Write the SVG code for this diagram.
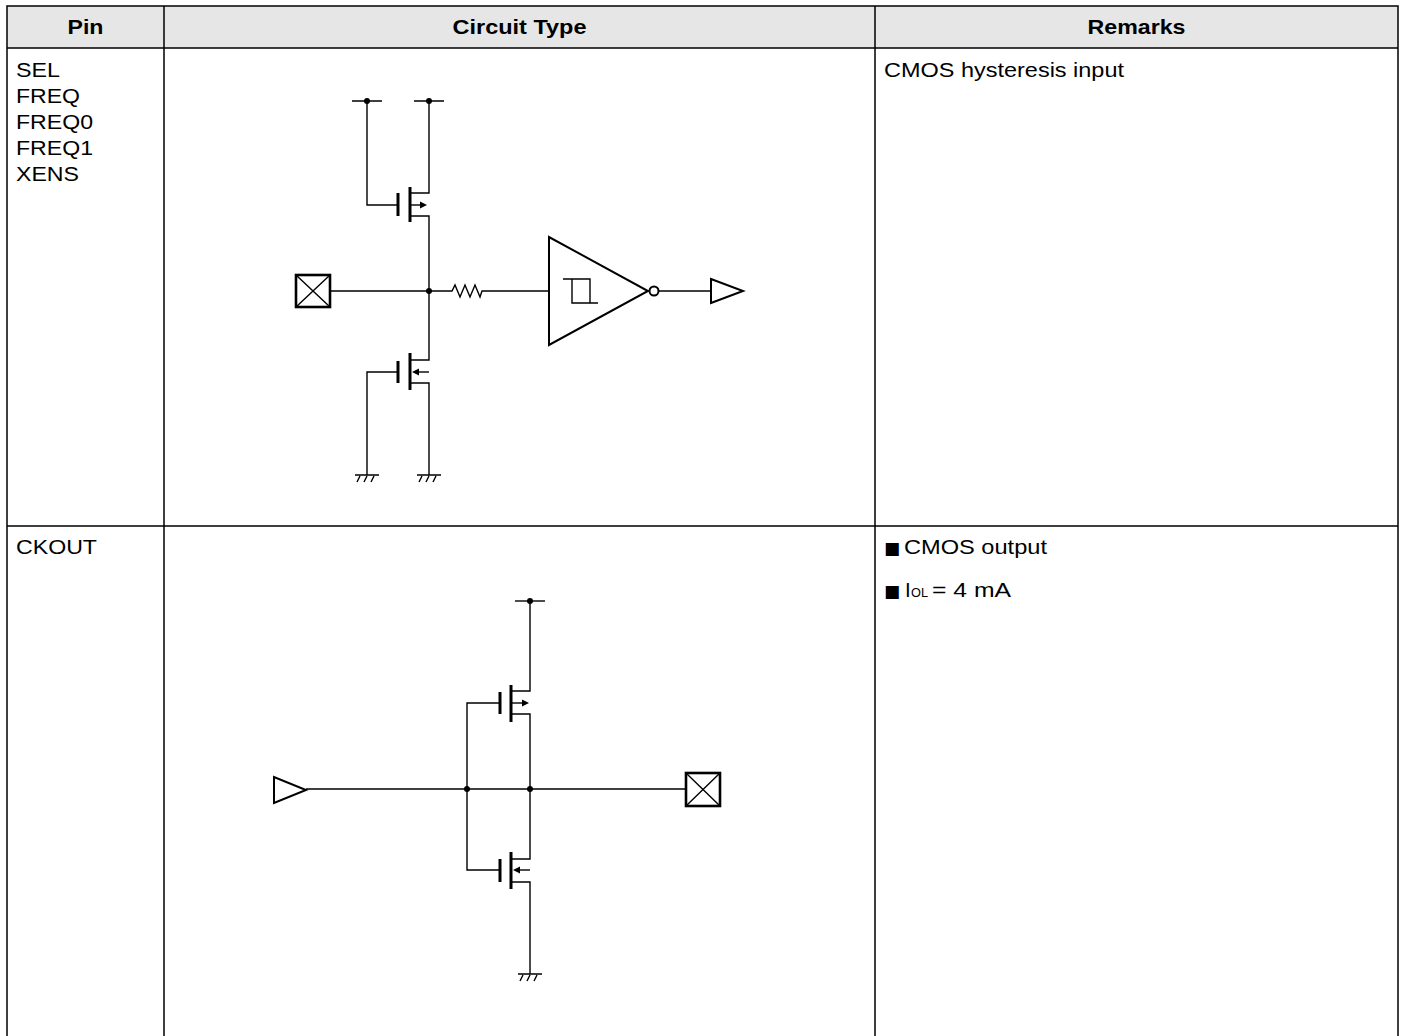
<svg xmlns="http://www.w3.org/2000/svg" width="1404" height="1036" viewBox="0 0 1404 1036">
<style>
.grid{stroke:#000;stroke-width:1.5;fill:none}
.t{font-family:"Liberation Sans",Arial,sans-serif;font-size:20.5px;fill:#000}
.h{font-family:"Liberation Sans",Arial,sans-serif;font-size:20.5px;font-weight:bold;fill:#000;text-anchor:middle}
.b{font-family:"DejaVu Sans",sans-serif;font-size:17px;fill:#000}
.w{stroke:#000;stroke-width:1.4;fill:none}
.plate{stroke:#000;stroke-width:3;fill:none}
.sym{stroke:#000;stroke-width:2;fill:none}
.pad{stroke:#000;stroke-width:2.6;fill:#fff}
.dot{fill:#000}
.ah{fill:#000;stroke:none}
</style>
<rect width="1404" height="1036" fill="#fff"/>
<g id="table">
<rect x="7" y="6" width="1391" height="42" fill="#e6e6e6"/>
<path class="grid" d="M7,1040V6H1398V1040M7,48H1398M7,526H1398M164,6V1040M875,6V1040"/>
<text class="h" x="85.5" y="34" textLength="36" lengthAdjust="spacingAndGlyphs">Pin</text>
<text class="h" x="519.5" y="34" textLength="134" lengthAdjust="spacingAndGlyphs">Circuit Type</text>
<text class="h" x="1136.5" y="34" textLength="98" lengthAdjust="spacingAndGlyphs">Remarks</text>
<text class="t" x="16" y="77" textLength="44" lengthAdjust="spacingAndGlyphs">SEL</text>
<text class="t" x="16" y="103" textLength="64" lengthAdjust="spacingAndGlyphs">FREQ</text>
<text class="t" x="16" y="129" textLength="77" lengthAdjust="spacingAndGlyphs">FREQ0</text>
<text class="t" x="16" y="155" textLength="77" lengthAdjust="spacingAndGlyphs">FREQ1</text>
<text class="t" x="16" y="181" textLength="63" lengthAdjust="spacingAndGlyphs">XENS</text>
<text class="t" x="884" y="77" textLength="240" lengthAdjust="spacingAndGlyphs">CMOS hysteresis input</text>
<text class="t" x="16" y="554" textLength="81" lengthAdjust="spacingAndGlyphs">CKOUT</text>
<text class="b" x="884" y="554">■</text>
<text class="t" x="904" y="554" textLength="143" lengthAdjust="spacingAndGlyphs">CMOS output</text>
<text class="b" x="884" y="597">■</text>
<text class="t" x="905" y="597">I</text>
<text class="t" x="911" y="597" style="font-size:12.5px" textLength="17" lengthAdjust="spacingAndGlyphs">OL</text>
<text class="t" x="932" y="597" textLength="79" lengthAdjust="spacingAndGlyphs">= 4 mA</text>
</g>
<g id="connectors">
<path class="w" d="M367,101V205H398"/>
<path class="w" d="M429,101V193H410"/>
<path class="w" d="M410,216H429V360H410"/>
<path class="w" d="M367,475V372H398"/>
<path class="w" d="M410,383H429V475"/>
<path class="w" d="M330,291H452L455,285L460,297L465,285L470,297L475,285L480,297L482,291H549"/>
<path class="w" d="M658,291H711"/>
<path class="w" d="M530,601V691H511"/>
<path class="w" d="M511,714H530V859H511"/>
<path class="w" d="M511,882H530V974"/>
<path class="w" d="M306,789H686"/>
<path class="w" d="M500,703H467V870H500"/>
</g>
<g id="vdd1">
<path class="w" d="M352,101H382M414,101H444"/>
<circle class="dot" cx="367" cy="101" r="3"/>
<circle class="dot" cx="429" cy="101" r="3"/>
</g>
<g id="pmos1">
<path class="plate" d="M398,193V216M410,187V222"/>
<path class="w" d="M410,205H422"/>
<path class="ah" d="M427,205L420,201.5V208.5Z"/>
</g>
<g id="nmos1">
<path class="plate" d="M398,361V383M410,353V390"/>
<path class="w" d="M418,372H429"/>
<path class="ah" d="M412,372L419,368.5V375.5Z"/>
</g>
<g id="gnd1">
<path class="w" d="M355,475H379M360,476L357,482M367,476L364,482M374,476L371,482"/>
<path class="w" d="M417,475H441M422,476L419,482M429,476L426,482M436,476L433,482"/>
</g>
<g id="pad1">
<rect class="pad" x="296" y="275" width="34" height="32"/>
<path class="w" d="M296,275L330,307M330,275L296,307"/>
</g>
<circle id="node1" class="dot" cx="429" cy="291" r="3"/>
<g id="schmitt">
<path class="sym" d="M549,237V345L648,291Z"/>
<circle class="sym" cx="654" cy="291" r="4.5" stroke-width="1.8"/>
<path class="w" d="M563,279H590V303M572,279V303H598" stroke-width="1.8"/>
</g>
<path id="out1" class="sym" d="M711,279V303L743,291Z"/>
<g id="vdd2">
<path class="w" d="M515,601H545"/>
<circle class="dot" cx="530" cy="601" r="3"/>
</g>
<g id="pmos2">
<path class="plate" d="M500,692V714M511,685V722"/>
<path class="w" d="M511,703H523"/>
<path class="ah" d="M529,703L522,699.5V706.5Z"/>
</g>
<g id="nmos2">
<path class="plate" d="M500,859V882M511,852V889"/>
<path class="w" d="M519,870H530"/>
<path class="ah" d="M513,870L520,866.5V873.5Z"/>
</g>
<g id="gnd2">
<path class="w" d="M518,974H542M523,975L520,981M530,975L527,981M537,975L534,981"/>
</g>
<path id="in2" class="sym" d="M274,777V803L306,790Z"/>
<circle id="node2a" class="dot" cx="467" cy="789" r="3"/>
<circle id="node2b" class="dot" cx="530" cy="789" r="3"/>
<g id="pad2">
<rect class="pad" x="686" y="773" width="34" height="33"/>
<path class="w" d="M686,773L720,806M720,773L686,806"/>
</g>
</svg>
